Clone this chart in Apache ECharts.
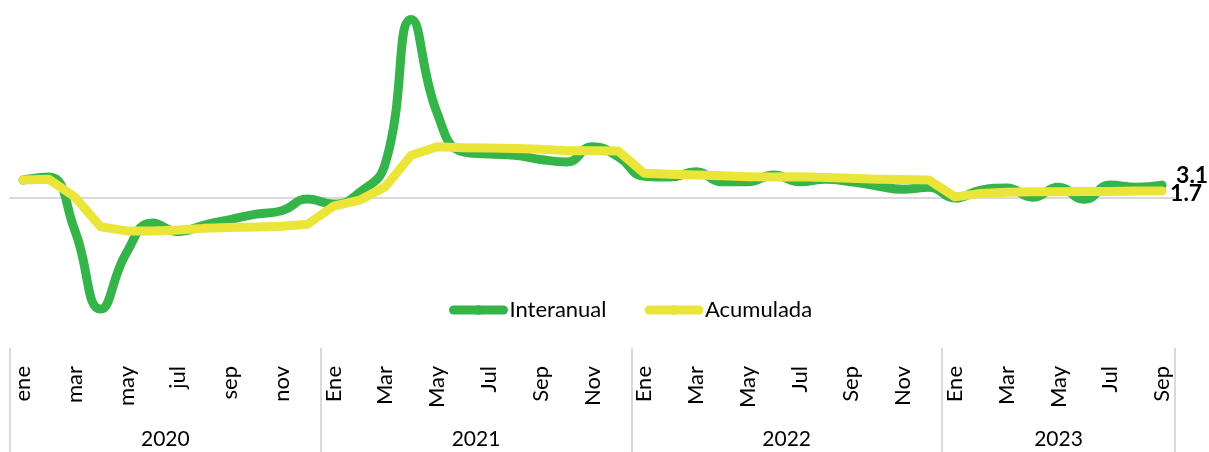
<!DOCTYPE html>
<html>
<head>
<meta charset="utf-8">
<script src="https://cdn.jsdelivr.net/npm/echarts@6/dist/echarts.min.js"></script>
<style>
  html, body { margin: 0; padding: 0; background: #fff; }
  #chart { width: 1209px; height: 452px; }
</style>
</head>
<body>
<div id="chart"></div>
<script>
// Meses ene 2020 - sep 2023
const months = [
  'ene', 'feb', 'mar', 'abr', 'may', 'jun', 'jul', 'ago', 'sep', 'oct', 'nov', 'dic',
  'Ene', 'Feb', 'Mar', 'Abr', 'May', 'Jun', 'Jul', 'Ago', 'Sep', 'Oct', 'Nov', 'Dic',
  'Ene', 'Feb', 'Mar', 'Abr', 'May', 'Jun', 'Jul', 'Ago', 'Sep', 'Oct', 'Nov', 'Dic',
  'Ene', 'Feb', 'Mar', 'Abr', 'May', 'Jun', 'Jul', 'Ago', 'Sep'
];
const years = ['2020', '2021', '2022', '2023'];
const monthsPerYear = [12, 12, 12, 9];

const interanual = [
  4.3, 5.0, -7.6, -26.4, -13.0, -5.9, -8.0, -6.4, -5.1, -3.8, -3.0, -0.2,
  -1.4, 1.3, 8.3, 42.5, 20.2, 11.0, 10.5, 10.2, 9.2, 8.6, 12.2, 9.8,
  5.2, 5.0, 6.3, 3.9, 3.9, 5.5, 3.9, 4.5, 3.9, 2.9, 2.1, 2.6,
  0.0, 1.9, 2.4, 0.2, 2.6, -0.3, 3.1, 2.6, 3.1
];
const acumulada = [
  4.3, 4.5, 0.3, -6.8, -7.8, -7.8, -7.6, -7.2, -7.0, -6.9, -6.7, -6.2,
  -1.9, -0.5, 2.7, 10.2, 12.2, 12.0, 11.9, 11.8, 11.6, 11.3, 11.3, 11.2,
  5.9, 5.7, 5.5, 5.3, 5.1, 5.0, 5.1, 4.9, 4.7, 4.5, 4.4, 4.3,
  0.3, 1.1, 1.4, 1.5, 1.5, 1.6, 1.6, 1.7, 1.7
];

const FONT = 'Lato';
const GREEN = '#35b44a';
const YELLOW = '#ebe53a';
const GREY = '#d9d9d9';

// limites y centros de cada año sobre el eje de meses
const yearEdges = [0];
monthsPerYear.forEach((n) => yearEdges.push(yearEdges[yearEdges.length - 1] + n));
const yearCenters = monthsPerYear.map((n, i) => yearEdges[i] + n / 2);

const chart = echarts.init(document.getElementById('chart'));

chart.setOption({
  animation: false,
  grid: { left: 10, right: 34, top: 9, bottom: 111, containLabel: false },
  legend: {
    left: 444,
    top: 294,
    itemWidth: 50,
    itemHeight: 12,
    itemGap: 38,
    lineStyle: { width: 9, cap: 'round' },
    textStyle: { fontFamily: FONT, fontSize: 22, color: '#000', padding: [0, 0, 0, 1] },
    data: ['Interanual', 'Acumulada']
  },
  xAxis: [
    {
      type: 'category',
      data: months,
      boundaryGap: true,
      position: 'bottom',
      axisLine: { show: false, onZero: false },
      axisTick: { show: false },
      axisLabel: {
        interval: 1,
        rotate: 90,
        margin: 25,
        fontFamily: FONT,
        fontSize: 22,
        color: '#000'
      }
    },
    {
      type: 'value',
      min: 0,
      max: yearEdges[yearEdges.length - 1],
      position: 'bottom',
      offset: 7,
      axisLine: { show: false, onZero: false },
      splitLine: { show: false },
      axisTick: {
        show: true,
        customValues: yearEdges,
        length: 104,
        lineStyle: { color: GREY, width: 2 }
      },
      axisLabel: {
        customValues: yearCenters,
        margin: 81,
        fontFamily: FONT,
        fontSize: 21,
        color: '#000',
        formatter: (v) => years[yearCenters.indexOf(v)]
      }
    },
    {
      // linea del cero
      type: 'category',
      data: months,
      position: 'bottom',
      axisLine: { show: true, onZero: true, lineStyle: { color: GREY, width: 2 } },
      axisTick: { show: false },
      axisLabel: { show: false }
    }
  ],
  yAxis: {
    type: 'value',
    min: -34,
    max: 45,
    show: false,
    splitLine: { show: false }
  },
  series: [
    {
      name: 'Interanual',
      type: 'line',
      data: interanual,
      smooth: 0.5,
      showSymbol: false,
      symbol: 'none',
      lineStyle: { color: GREEN, width: 9, cap: 'round' },
      itemStyle: { color: GREEN },
      endLabel: {
        show: true,
        formatter: (p) => p.value.toFixed(1),
        fontFamily: FONT,
        fontWeight: 'bold',
        fontSize: 23,
        color: '#000',
        distance: 14,
        offset: [0, -10]
      }
    },
    {
      name: 'Acumulada',
      type: 'line',
      data: acumulada,
      showSymbol: false,
      symbol: 'none',
      lineStyle: { color: YELLOW, width: 9, cap: 'round', join: 'round' },
      itemStyle: { color: YELLOW },
      endLabel: {
        show: true,
        formatter: (p) => p.value.toFixed(1),
        fontFamily: FONT,
        fontWeight: 'bold',
        fontSize: 23,
        color: '#000',
        distance: 8,
        offset: [0, 3]
      }
    }
  ]
});
</script>
</body>
</html>
